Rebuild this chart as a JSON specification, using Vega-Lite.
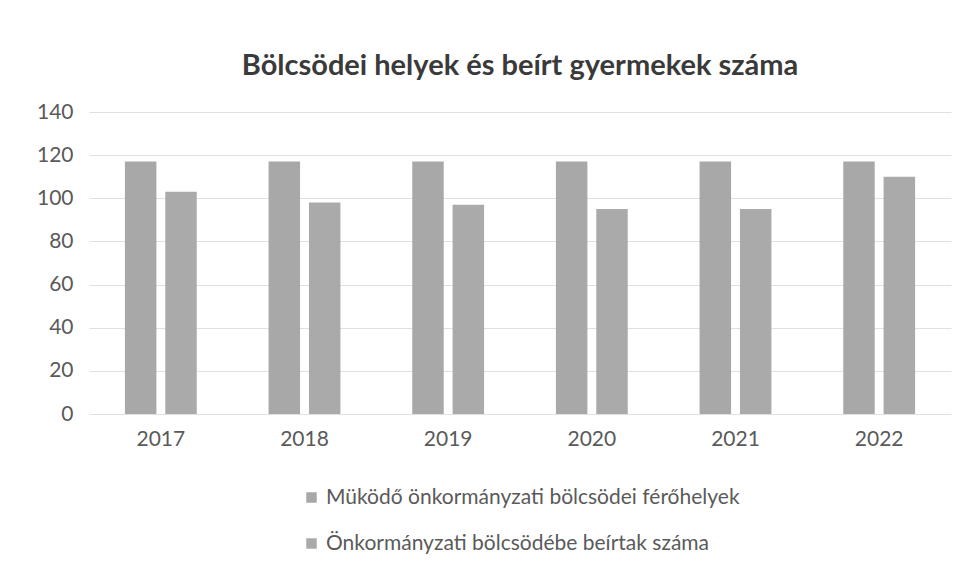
{
  "$schema": "https://vega.github.io/schema/vega-lite/v6.json",
  "width": 862,
  "height": 302,
  "padding": {"left": 36, "top": 52, "right": 20, "bottom": 10},
  "background": "white",
  "title": {
    "text": "Bölcsödei helyek és beírt gyermekek száma",
    "font": "Lato",
    "fontSize": 29,
    "fontWeight": "bold",
    "color": "#3a3a3a",
    "anchor": "middle",
    "offset": 20
  },
  "data": {
    "values": [
      {"ev": "2017", "sorozat": "Müködő önkormányzati bölcsödei férőhelyek", "ertek": 117},
      {"ev": "2017", "sorozat": "Önkormányzati bölcsödébe beírtak száma", "ertek": 103},
      {"ev": "2018", "sorozat": "Müködő önkormányzati bölcsödei férőhelyek", "ertek": 117},
      {"ev": "2018", "sorozat": "Önkormányzati bölcsödébe beírtak száma", "ertek": 98},
      {"ev": "2019", "sorozat": "Müködő önkormányzati bölcsödei férőhelyek", "ertek": 117},
      {"ev": "2019", "sorozat": "Önkormányzati bölcsödébe beírtak száma", "ertek": 97},
      {"ev": "2020", "sorozat": "Müködő önkormányzati bölcsödei férőhelyek", "ertek": 117},
      {"ev": "2020", "sorozat": "Önkormányzati bölcsödébe beírtak száma", "ertek": 95},
      {"ev": "2021", "sorozat": "Müködő önkormányzati bölcsödei férőhelyek", "ertek": 117},
      {"ev": "2021", "sorozat": "Önkormányzati bölcsödébe beírtak száma", "ertek": 95},
      {"ev": "2022", "sorozat": "Müködő önkormányzati bölcsödei férőhelyek", "ertek": 117},
      {"ev": "2022", "sorozat": "Önkormányzati bölcsödébe beírtak száma", "ertek": 110}
    ]
  },
  "mark": {"type": "bar"},
  "encoding": {
    "x": {
      "field": "ev",
      "type": "nominal",
      "title": null,
      "scale": {"paddingInner": 0.5, "paddingOuter": 0.25},
      "axis": {
        "labelAngle": 0,
        "domain": false,
        "ticks": false,
        "labelFont": "Lato",
        "labelFontSize": 21,
        "labelColor": "#5a5a5a",
        "labelPadding": 14
      }
    },
    "xOffset": {
      "field": "sorozat",
      "type": "nominal",
      "scale": {"paddingInner": 0.22}
    },
    "y": {
      "field": "ertek",
      "type": "quantitative",
      "title": null,
      "scale": {"domain": [0, 140]},
      "axis": {
        "values": [0, 20, 40, 60, 80, 100, 120, 140],
        "domain": false,
        "ticks": false,
        "gridColor": "#e0e0e0",
        "labelFont": "Lato",
        "labelFontSize": 21,
        "labelColor": "#5a5a5a",
        "labelPadding": 16
      }
    },
    "color": {
      "field": "sorozat",
      "type": "nominal",
      "scale": {"range": ["#a8a8a8", "#aaaaaa"]},
      "legend": {
        "title": null,
        "orient": "none",
        "legendX": 212,
        "legendY": 375,
        "direction": "vertical",
        "symbolType": "square",
        "symbolSize": 110,
        "labelFont": "Lato",
        "labelFontSize": 21,
        "labelColor": "#5a5a5a",
        "labelLimit": 0,
        "rowPadding": 24
      }
    }
  },
  "config": {"view": {"stroke": null}}
}
